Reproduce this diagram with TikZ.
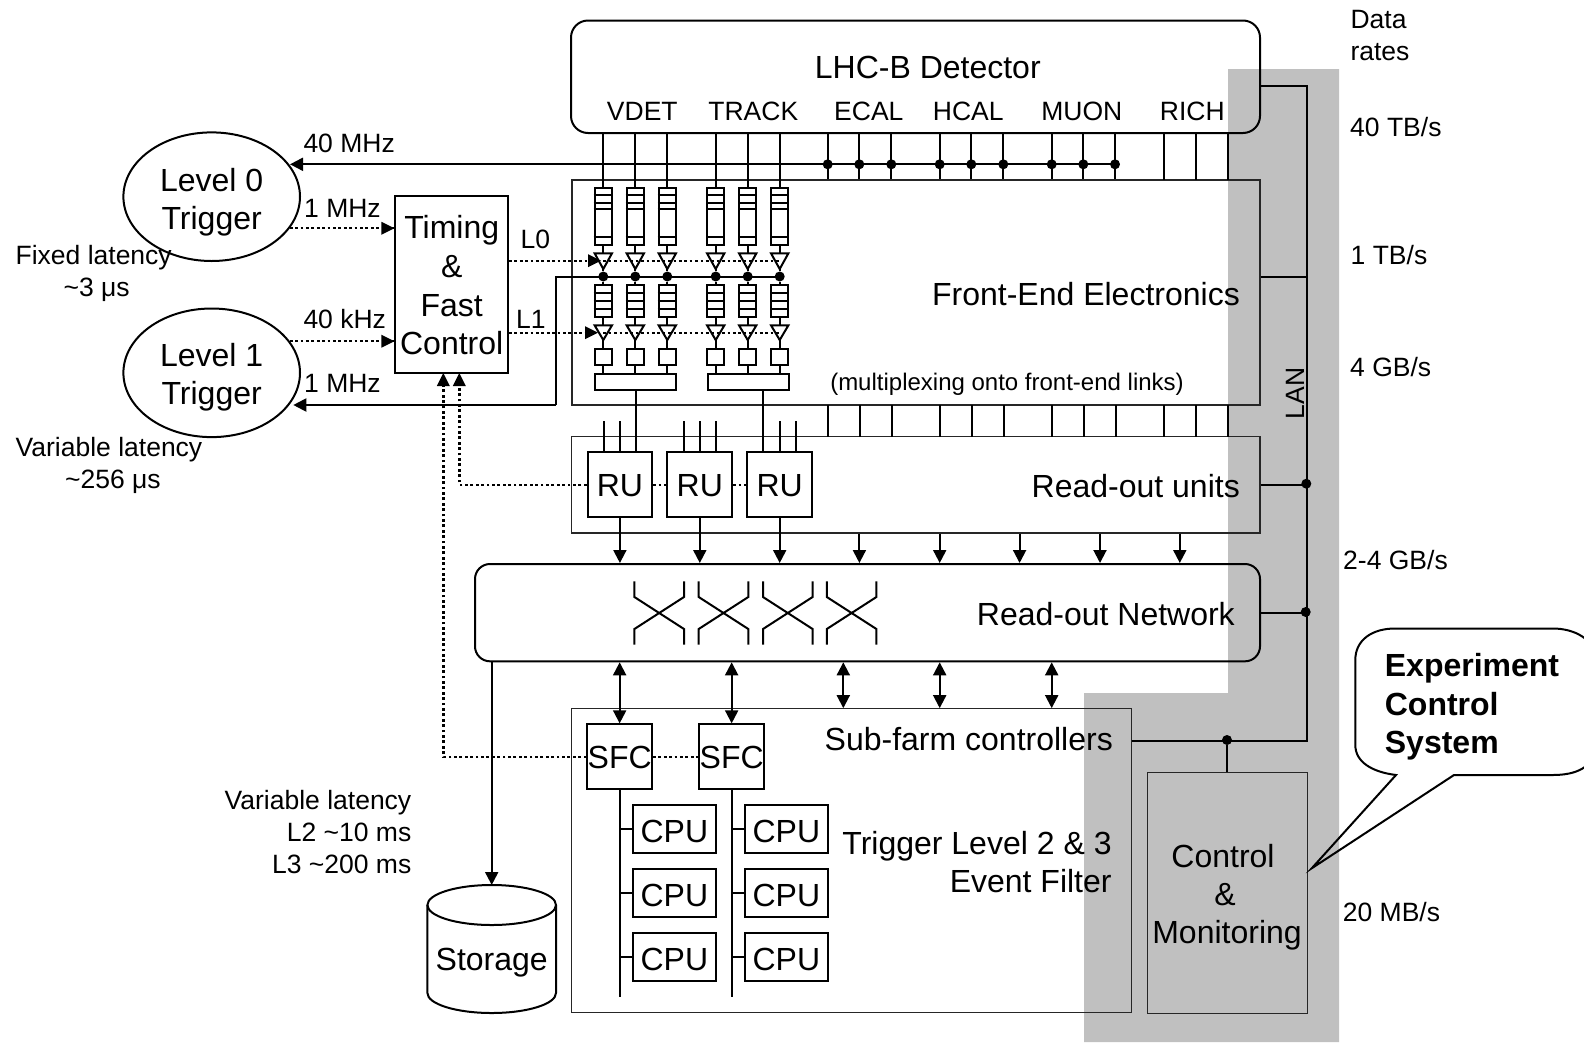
\documentclass[tikz,border=0pt]{standalone}
\usepackage{fontspec}
\setmainfont{Liberation Sans}
\usetikzlibrary{arrows.meta,shapes.geometric}
\definecolor{lanGray}{RGB}{192,192,192}
\tikzset{
  wh/.style 2 args={minimum width=#1,minimum height=#2},
  thinbox/.style={draw=black!85,line width=1.1pt,inner sep=0pt,rectangle},
  heavybox/.style={draw=black,line width=2pt,inner sep=0pt,rectangle},
  wire/.style={draw=black,line width=2pt},
  dotwire/.style={draw=black,line width=2.4pt,dash pattern=on 2.7pt off 2.7pt},
  headend/.style={-{Triangle[length=13pt,width=13pt]}},
  headboth/.style={{Triangle[length=13pt,width=13pt]}-{Triangle[length=13pt,width=13pt]}},
  jdot/.style={circle,fill=black,draw=none,inner sep=0pt,minimum size=10pt},
  bigtxt/.style={font=\fontsize{32}{38}\selectfont,inner sep=0pt},
  smalltxt/.style={font=\fontsize{26.5}{32}\selectfont,inner sep=0pt},
  captxt/.style={font=\fontsize{32}{38}\selectfont,text height=24pt,text depth=0pt},
}
\begin{document}
\begin{tikzpicture}[x=1pt,y=-1pt]
\useasboundingbox (0,0) rectangle (1584,1042);
\fill[white] (0,0) rectangle (1584,1042);
% grey LAN band
\fill[lanGray] (1228,69) -- (1339,69) -- (1339,1042) -- (1084,1042) -- (1084,693) -- (1228,693) -- cycle;

% large area boxes
\node[heavybox,wh={689pt}{112.5pt},rounded corners=17pt] (det) at (915.5,76.75) {};
\node[thinbox,wh={688pt}{225pt}] (fe) at (916,292.5) {};
\node[thinbox,wh={688.5pt}{96.3pt}] (ruarea) at (915.75,484.85) {};
\node[heavybox,wh={785pt}{97.3pt},rounded corners=15pt] (net) at (867.5,612.65) {};
\node[thinbox,wh={559.6pt}{304pt}] (sub) at (851.5,860.7) {};
\node[thinbox,wh={160pt}{240.6pt}] (cm) at (1227.3,893) {};

% triggers and timing
\node[draw=black,line width=2pt,ellipse,inner sep=0pt,wh={176.6pt}{128.6pt}] (lv0) at (211.7,196.7) {};
\node[draw=black,line width=2pt,ellipse,inner sep=0pt,wh={176.6pt}{128.6pt}] (lv1) at (211.7,372.8) {};
\node[bigtxt,align=center,anchor=center] (lv0t) at (211.7,202.2) {Level 0\\Trigger};
\node[bigtxt,align=center,anchor=center] (lv1t) at (211.7,376.8) {Level 1\\Trigger};
\node[heavybox,wh={112.7pt}{177pt}] (timing) at (451.7,284.5) {};
\node[font=\fontsize{32}{38.7}\selectfont,inner sep=0pt,align=center,anchor=center] (timingtxt) at (451.7,285.5) {Timing\\\&\\Fast\\Control};

% labels of the detector box
\node[bigtxt,anchor=base] (detname) at (927.8,78) {LHC-B Detector};
\foreach \n/\t/\x in {vdet/VDET/642.3,track/TRACK/753.3,ecal/ECAL/868.8,hcal/HCAL/968.3,muon/MUON/1081.8,rich/RICH/1192.3}
  \node[smalltxt,anchor=base] (\n) at (\x,120) {\t};

% horizontal clock bus
\coordinate (clk) at (1115,164.3);
\coordinate (clkhead) at (290,164.3);
\draw[wire,headend] (clk) -- (clkhead);

% detector columns, channels with front-end chain
\foreach \i/\x in {1/603.3,2/635.3,3/667.3,4/715.7,5/747.7,6/779.7}{
  \node[heavybox,wh={17.4pt}{57pt}] (fa\i) at (\x,216.5) {};
  \node[heavybox,wh={17.4pt}{32pt}] (fb\i) at (\x,301.3) {};
  \node[heavybox,wh={17.4pt}{16.6pt}] (sq\i) at (\x,357) {};
  \coordinate (ta\i) at (\x,253.3);
  \coordinate (tax\i) at (\x,269);
  \coordinate (tb\i) at (\x,325.3);
  \coordinate (tbx\i) at (\x,340);
  \node[jdot] (bus\i) at (\x,276.5) {};
  \draw[wire] (fa\i.west |- 0,195.3) -- (fa\i.east |- 0,195.3);
  \draw[wire] (fa\i.west |- 0,202.7) -- (fa\i.east |- 0,202.7);
  \draw[wire] (fa\i.west |- 0,209.3) -- (fa\i.east |- 0,209.3);
  \draw[wire] (fa\i.west |- 0,237.3) -- (fa\i.east |- 0,237.3);
  \draw[wire] (fb\i.west |- 0,293.3) -- (fb\i.east |- 0,293.3);
  \draw[wire] (fb\i.west |- 0,301.3) -- (fb\i.east |- 0,301.3);
  \draw[wire] (fb\i.west |- 0,309.3) -- (fb\i.east |- 0,309.3);
  \draw[wire,line join=miter] (ta\i)+(-8.7,0) -- +(8.7,0) -- (tax\i) -- cycle;
  \draw[wire,line join=miter] (tb\i)+(-8.7,0) -- +(8.7,0) -- (tbx\i) -- cycle;
  \draw[wire] (det.south -| fa\i) -- (fa\i.north);
  \draw[wire] (fa\i.south) -- (ta\i);
  \draw[wire] (tax\i) -- (bus\i) -- (fb\i.north);
  \draw[wire] (fb\i.south) -- (tb\i);
  \draw[wire] (tbx\i) -- (sq\i.north);
}
\node[heavybox,wh={81pt}{16pt}] (mux1) at (635.5,382) {};
\node[heavybox,wh={81pt}{16pt}] (mux2) at (748.8,382) {};
\foreach \i/\m in {1/1,2/1,3/1,4/2,5/2,6/2}
  \draw[wire] (sq\i.south) -- (sq\i.south |- mux\m.north);

% tapped channels on the clock bus
\foreach \k/\x in {1/827.7,2/859.3,3/891.3,4/939.7,5/971.3,6/1003.3,7/1051.7,8/1083.3,9/1115}{
  \node[jdot] (tap\k) at (\x,164.3) {};
  \draw[wire] (det.south -| tap\k) -- (fe.north -| tap\k);
}
\foreach \x in {1164,1196,1228}
  \draw[wire] (\x,133) -- (\x,180);
% links from front-end to read-out area
\foreach \x in {827.7,859.8,891.5,939.7,971.8,1004,1051.7,1083.9,1116,1164.2,1196.4,1228}
  \draw[wire] (\x,405) -- (\x,436.7);

% L0 / L1 decision and throttle lines
\coordinate (yl0) at (0,260.7);
\coordinate (yl1) at (0,332.7);
\draw[dotwire] (bus1 |- yl0) -- (bus6 |- yl0);
\draw[dotwire] (bus1 |- yl1) -- (bus6 |- yl1);
\draw[dotwire] (timing.east |- yl0) -- (589,260.7);
\draw[dotwire] (timing.east |- yl1) -- (586,332.7);
\fill[black] (601,260.7) -- (588,254.2) -- (588,267.2) -- cycle;
\fill[black] (598,332.7) -- (585,326.2) -- (585,339.2) -- cycle;
\coordinate (turn) at (555.7,277);
\coordinate (l1head) at (293.3,405);
\draw[wire] (bus6) -- (bus6 -| turn) -- (turn |- l1head);
\draw[wire,headend] (turn |- l1head) -- (l1head);

\draw[dotwire] (lv0.-22.5) -- (timing.west |- lv0.-22.5);
\fill[black] (timing.west |- lv0.-22.5) ++(-13,-6.5) -- ++(13,6.5) -- ++(-13,6.5) -- cycle;
\draw[dotwire] (lv1.22.5) -- (timing.west |- lv1.22.5);
\fill[black] (timing.west |- lv1.22.5) ++(-13,-6.5) -- ++(13,6.5) -- ++(-13,6.5) -- cycle;

% read-out units
\node[heavybox,captxt,wh={64.8pt}{64.7pt}] (ru1) at (619.9,484.7) {RU};
\node[heavybox,captxt,wh={64.8pt}{64.7pt}] (ru2) at (699.8,484.7) {RU};
\node[heavybox,captxt,wh={64.8pt}{64.7pt}] (ru3) at (779.7,484.7) {RU};
\foreach \x in {603.6,619.7,683.5,699.6,715.6,779.5,795.5}
  \draw[wire] (\x,421.3) -- (\x,452.3);
\draw[wire] (mux1.south -| 635.5,0) -- (ru1.north -| 635.5,0);
\draw[wire] (mux2.south -| 763.4,0) -- (ru3.north -| 763.4,0);
\draw[dotwire] (ru1.east) -- (ru2.west);
\draw[dotwire] (ru2.east) -- (ru3.west);
\draw[dotwire] (ru1.west) -- (459.3,484.7) -- (459.3,385);
\fill[black] (459.3,373) -- ++(-6.5,13) -- ++(13,0) -- cycle;

\foreach \r in {1,2,3}
  \draw[wire,headend] (ru\r.south) -- (net.north -| ru\r.south);
\foreach \x in {859.4,939.7,1019.6,1100,1179.8}
  \draw[wire,headend] (ruarea.south -| \x,0) -- (net.north -| \x,0);

% switch fabric
\foreach \i/\x in {1/659.2,2/723.5,3/787.8,4/851.6}{
  \coordinate (sw\i) at (\x,613);
  \draw[wire] (sw\i)+(-24.8,-31.7) -- +(-24.8,-16) -- +(24.8,16) -- +(24.8,31.7);
  \draw[wire] (sw\i)+(24.8,-31.7) -- +(24.8,-16) -- +(-24.8,16) -- +(-24.8,31.7);
}

% sub-farm controllers and CPUs
\node[heavybox,captxt,wh={64.7pt}{64.7pt}] (sfc1) at (619.65,756.7) {SFC};
\node[heavybox,captxt,wh={64.7pt}{64.7pt}] (sfc2) at (731.65,756.7) {SFC};
\foreach \s in {1,2}
  \draw[wire,headboth] (net.south -| sfc\s) -- (sfc\s.north);
\foreach \x in {843.3,939.7,1051.7}
  \draw[wire,headboth] (net.south -| \x,0) -- (sub.north -| \x,0);
\draw[dotwire] (sfc1.east) -- (sfc2.west);
\draw[dotwire] (sfc1.west) -- (443.3,756.7) -- (443.3,385);
\fill[black] (443.3,373) -- ++(-6.5,13) -- ++(13,0) -- cycle;
\foreach \s/\x in {1/674.35,2/786.35}{
  \draw[wire] (sfc\s.south) -- (sfc\s.south |- 0,996.7);
  \foreach \c/\y in {1/829,2/893,3/957}{
    \node[heavybox,font=\fontsize{32}{38}\selectfont,text height=27pt,text depth=0pt,wh={83.3pt}{47.7pt}] (cpu\s\c) at (\x,\y) {CPU};
    \draw[wire] (cpu\s\c.west) -- (cpu\s\c.west -| sfc\s.south);
  }
}

% storage
\node[bigtxt,anchor=base] (storage) at (491.7,970) {Storage};
\coordinate (stop) at (491.7,885);
\draw[wire] (491.7,905) ellipse [x radius=64.3pt,y radius=20pt];
\draw[wire] (427.4,905) -- (427.4,993) arc[start angle=180,end angle=360,x radius=64.3pt,y radius=20pt] -- (556,905);
\draw[wire,headend] (net.south -| stop) -- (stop);

% LAN
\coordinate (lanT) at (1307.3,86);
\coordinate (lanB) at (1307.3,740.7);
\draw[wire,line join=miter] (det.east |- lanT) -- (lanT) -- (lanB) -- (sub.east |- lanB);
\draw[wire] (fe.east |- 0,277) -- (lanT |- 0,277);
\draw[wire] (ruarea.east |- 0,485) -- (lanT |- 0,485);
\draw[wire] (net.east |- 0,612.7) -- (lanT |- 0,612.7);
\node[jdot] (lanru) at (1306.3,483.7) {};
\node[jdot] (lannet) at (1305.7,612) {};
\node[jdot] (lancm) at (1227,740) {};
\draw[wire] (lancm) -- (lancm |- cm.north);
\node[smalltxt,anchor=base,rotate=90] (lan) at (1304,393.3) {LAN};

% texts in boxes
\node[bigtxt,anchor=base east] (fetxt) at (1240,305) {Front-End Electronics};
\node[inner sep=0pt,font=\fontsize{24}{28}\selectfont,anchor=base] (muxtxt) at (1007,390.5) {(multiplexing onto front-end links)};
\node[bigtxt,anchor=base east] (rutxt) at (1240,497) {Read-out units};
\node[bigtxt,anchor=base east] (nettxt) at (1235,625) {Read-out Network};
\node[bigtxt,anchor=base east] (subtxt) at (1113,750) {Sub-farm controllers};
\node[bigtxt,align=right,anchor=center] (trigtxt) at (977,862) {Trigger Level 2 \& 3\\Event Filter};
\node[bigtxt,align=center,anchor=center] (cmtxt) at (1225,897) {Control\hspace*{4pt}\\\&\hspace*{4pt}\\\hspace*{4pt}Monitoring};

% free labels
\node[smalltxt,anchor=base west] (r1) at (303.3,152.5) {40 MHz};
\node[smalltxt,anchor=base west] (r2) at (304,217) {1 MHz};
\node[smalltxt,anchor=base west] (r3) at (303.3,328.5) {40 kHz};
\node[smalltxt,anchor=base west] (r4) at (304,392) {1 MHz};
\node[smalltxt,anchor=base west] (l0) at (520.5,248.3) {L0};
\node[smalltxt,anchor=base west] (l1) at (516,328.3) {L1};
\node[smalltxt,align=center,anchor=center] (fix) at (93.7,273) {Fixed latency\\\hspace*{6pt}\textasciitilde3 μs};
\node[smalltxt,align=center,anchor=center] (var) at (109,465) {Variable latency\\\hspace*{8pt}\textasciitilde256 μs};
\node[smalltxt,align=right,anchor=center] (var2) at (318,832) {Variable latency\\L2 \textasciitilde10 ms\\L3 \textasciitilde200 ms};
\node[smalltxt,align=left,anchor=center] (data) at (1380,35.3) {Data\\rates};
\node[smalltxt,anchor=base west] (d1) at (1350,136.5) {40 TB/s};
\node[smalltxt,anchor=base west] (d2) at (1350.5,264) {1 TB/s};
\node[smalltxt,anchor=base west] (d3) at (1350,376) {4 GB/s};
\node[smalltxt,anchor=base west] (d4) at (1343,569.5) {2-4 GB/s};
\node[smalltxt,anchor=base west] (d5) at (1342.7,921) {20 MB/s};

% callout
\begin{scope}
\clip (1300,600) rectangle (1584,900);
\draw[wire,line join=miter] (1396,775) -- (1311.7,868.3) -- (1454,775) -- (1553,775)
  .. controls (1575,775) and (1595,768) .. (1595,745) -- (1595,658)
  .. controls (1595,640) and (1575,628.5) .. (1553,628.5) -- (1395,628.5)
  .. controls (1372,628.5) and (1355.3,640) .. (1355.3,660) -- (1355.3,745)
  .. controls (1355.3,762) and (1372,772) .. (1396,775) -- cycle;
\end{scope}
\node[font=\fontsize{32}{38.7}\selectfont\bfseries,inner sep=0pt,align=left,anchor=center] (ecs) at (1472,707) {Experiment\\Control\\System};
\end{tikzpicture}
\end{document}
